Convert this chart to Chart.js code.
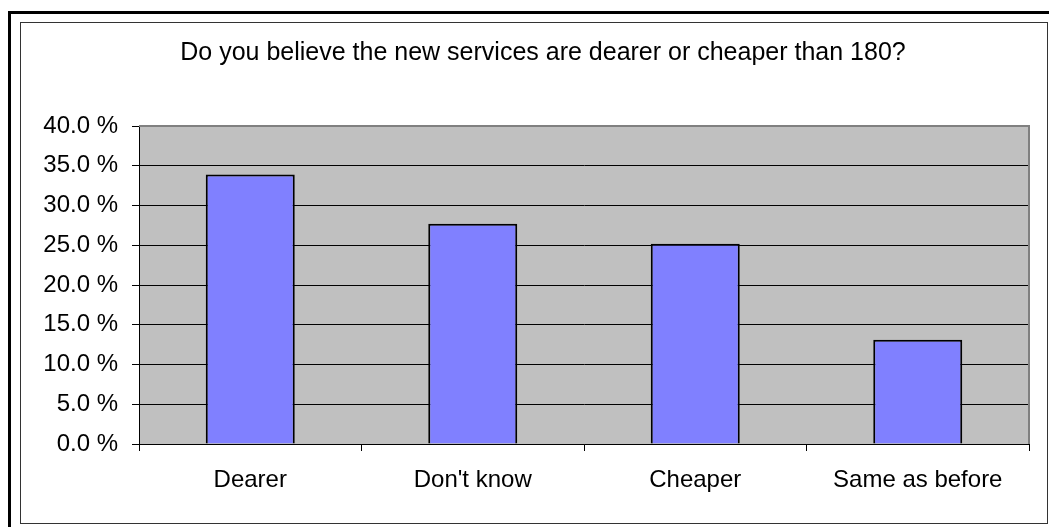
<!DOCTYPE html>
<html>
<head>
<meta charset="utf-8">
<script src="https://cdn.jsdelivr.net/npm/chart.js@4"></script>
<style>
  html, body { margin: 0; padding: 0; background: #fff; overflow: hidden; }
  #outer { position: absolute; left: 8px; top: 11px; width: 1200px; height: 700px; border-left: 3px solid #000; border-top: 3px solid #000; }
  #inner { position: absolute; left: 20px; top: 22px; width: 1026px; height: 500px; border: 1px solid #333; }
  #chart { position: absolute; left: 0; top: 0; }
</style>
</head>
<body>
<div id="outer"></div>
<div id="inner"></div>
<canvas id="chart" width="1049" height="527"></canvas>
<script>
// survey answers
const categories = ["Dearer", "Don't know", "Cheaper", "Same as before"];
const shares = [33.9, 27.7, 25.2, 13.1];
const yMin = 0;
const yMax = 40;
const yStep = 5;
const chartTitle = "Do you believe the new services are dearer or cheaper than 180?";

const font = "'Liberation Sans', Arial, sans-serif";

// grey plot area + darker top/right edge, like the old Excel chart
const plotArea = {
  id: "plotArea",
  beforeDraw(chart) {
    const { ctx, chartArea: a } = chart;
    ctx.save();
    ctx.fillStyle = "#c0c0c0";
    ctx.fillRect(a.left, a.top, a.right - a.left, a.bottom - a.top);
    ctx.restore();
  },
  afterDraw(chart) {
    const { ctx, chartArea: a } = chart;
    ctx.save();
    ctx.strokeStyle = "#808080";
    ctx.lineWidth = 2;
    ctx.beginPath();
    ctx.moveTo(a.left, a.top);
    ctx.lineTo(a.right, a.top);
    ctx.lineTo(a.right, a.bottom);
    ctx.stroke();
    // title
    ctx.fillStyle = "#000";
    ctx.font = "25px " + font;
    ctx.textAlign = "center";
    ctx.textBaseline = "middle";
    ctx.fillText(chartTitle, 543, 53);
    ctx.restore();
  }
};

new Chart(document.getElementById("chart"), {
  type: "bar",
  data: {
    labels: categories,
    datasets: [{
      data: shares,
      backgroundColor: "#8080ff",
      borderColor: "#000",
      borderWidth: 2,
      barPercentage: 0.4,
      categoryPercentage: 1
    }]
  },
  options: {
    responsive: false,
    animation: false,
    layout: { padding: { left: 0, right: 20, top: 126, bottom: 0 } },
    plugins: {
      legend: { display: false },
      tooltip: { enabled: false },
      title: { display: false }
    },
    scales: {
      x: {
        grid: { offset: true, drawOnChartArea: false, color: "#000", tickLength: 7 },
        border: { display: true, color: "#000", width: 1 },
        ticks: { color: "#000", font: { family: font, size: 24 }, padding: 15 },
        afterFit(scale) { scale.height = 83; }
      },
      y: {
        min: yMin,
        max: yMax,
        grid: { color: "#000", lineWidth: 1, tickLength: 7 },
        border: { display: true, color: "#000", width: 1 },
        ticks: {
          stepSize: yStep,
          color: "#000",
          padding: 14,
          font: { family: font, size: 24 },
          callback: v => v.toFixed(1) + " %"
        },
        afterFit(scale) { scale.width = 139; }
      }
    }
  },
  plugins: [plotArea]
});
</script>
</body>
</html>
